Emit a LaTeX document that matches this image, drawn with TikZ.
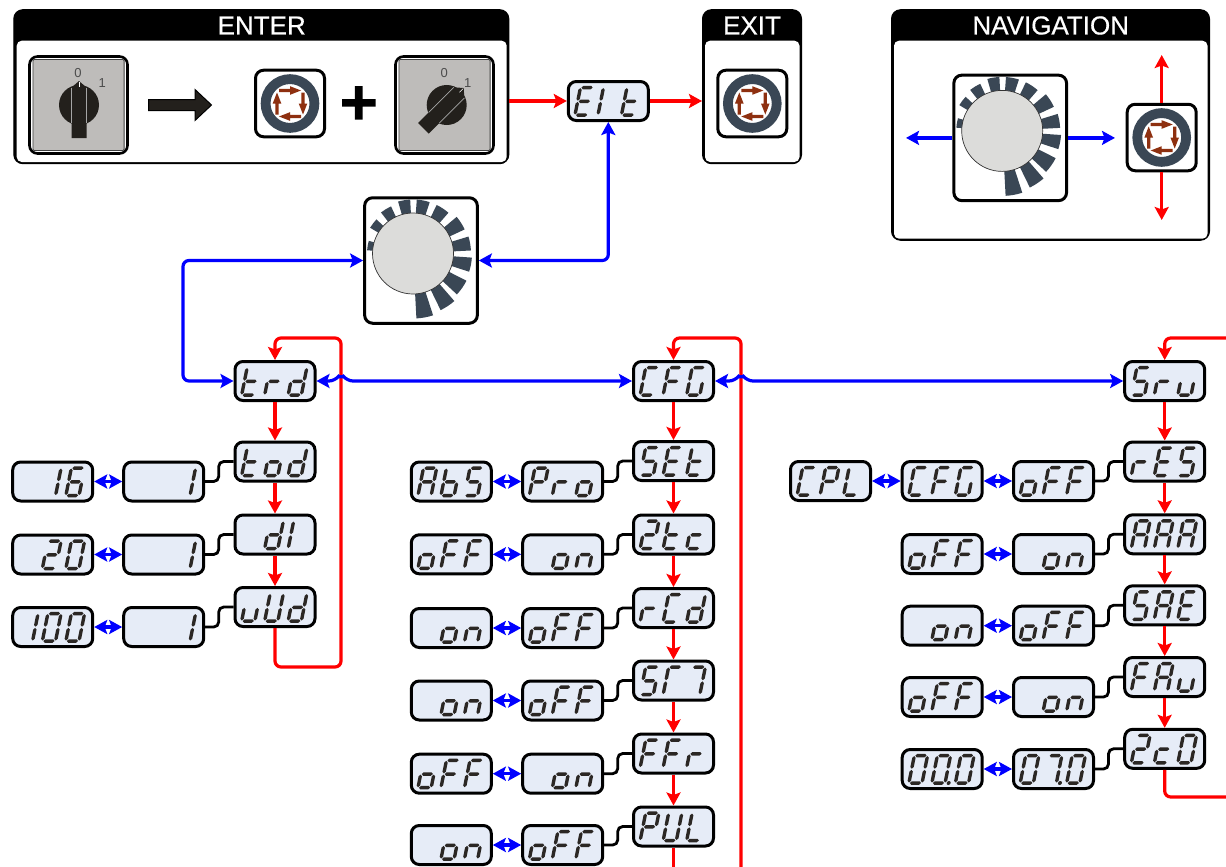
\documentclass[tikz,border=0pt]{standalone}
\usepackage{fontspec}
\setmainfont{Liberation Sans}
\newfontfamily\titlefont[RawFeature={embolden=0.5}]{Liberation Sans}
\usetikzlibrary{arrows.meta}
\definecolor{lcdfill}{HTML}{E6ECF7}
\definecolor{lcdink}{HTML}{2B2724}
\definecolor{ringc}{HTML}{3A4755}
\definecolor{brownc}{HTML}{8E3010}
\definecolor{plate}{HTML}{BEBCBA}
\definecolor{knobc}{HTML}{23201C}
\definecolor{discc}{HTML}{DCDCDA}
\tikzset{
 lcdbox/.style={draw=black,line width=3pt,fill=lcdfill,rounded corners=8pt,minimum width=80pt,minimum height=39pt,inner sep=0pt,text opacity=0,font=\fontsize{8}{8}\selectfont},
 iconbox/.style={draw=black,line width=3pt,fill=white,rounded corners=8pt,inner sep=0pt},
 panelbox/.style={draw=black,line width=1pt,fill=black,rounded corners=9pt,inner sep=0pt},
 paneltitle/.style={text=white,font=\titlefont\fontsize{26}{26}\selectfont,inner sep=0pt},
 lcdseg/.style={fill=lcdink},
 redln/.style={draw=red,line width=3.2pt,rounded corners=6pt},
 blueln/.style={draw=blue,line width=3.2pt,rounded corners=6pt},
 linkln/.style={draw=black,line width=2.8pt,rounded corners=5pt},
 >={Stealth[length=13pt,width=14pt,inset=2.5pt]},
 dial/.style={text=black!70,font=\fontsize{13}{13}\selectfont,inner sep=0pt}
}
% seven-segment pieces
\newcommand\segH[1]{\fill[lcdseg] (-5.6,#1) -- (-3.9,#1-1.75) -- (3.9,#1-1.75) -- (5.6,#1) -- (3.9,#1+1.75) -- (-3.9,#1+1.75) -- cycle;}
\newcommand\segV[3]{\fill[lcdseg] (#1,#2) -- (#1+1.7,#2+1.7) -- (#1+1.7,#3-1.7) -- (#1,#3) -- (#1-1.7,#3-1.7) -- (#1-1.7,#2+1.7) -- cycle;}
\def\SA{\segH{-13.7}}\def\SG{\segH{0}}\def\SD{\segH{13.7}}
\def\SF{\segV{-6.6}{-13.2}{-.6}}\def\SB{\segV{6.6}{-13.2}{-.6}}
\def\SE{\segV{-6.6}{.6}{13.2}}\def\SC{\segV{6.6}{.6}{13.2}}
\def\SP{\fill[lcdseg] (10.2,13.7) circle[radius=2];}
\def\GlyT{\SD\SE\SF\SG}\def\GlyR{\SE\SG}\def\GlyD{\SB\SC\SD\SE\SG}\def\GlyO{\SC\SD\SE\SG}
\def\GlyEE{\SA\SD\SE\SF\SG}\def\GlyLl{\SE\SF}\def\GlyRr{\SB\SC}\def\GlyC{\SA\SD\SE\SF}
\def\GlyCc{\SD\SE\SG}\def\GlyF{\SA\SE\SF\SG}\def\GlyG{\SA\SC\SD\SE\SF}\def\GlyS{\SA\SC\SD\SF\SG}
\def\GlyU{\SC\SD\SE}\def\GlyUU{\SB\SC\SD\SE\SF}\def\GlyTwo{\SA\SB\SD\SE\SG}\def\GlyP{\SA\SB\SE\SF\SG}
\def\GlyL{\SD\SE\SF}\def\GlyA{\SA\SB\SC\SE\SF\SG}\def\GlyB{\SC\SD\SE\SF\SG}\def\GlyN{\SC\SE\SG}
\def\GlySix{\SA\SC\SD\SE\SF\SG}\def\GlyZero{\SA\SB\SC\SD\SE\SF}\def\GlySeven{\SA\SB\SC}
\def\GlyMa{\SA\SE\SF}\def\GlyMb{\SA\SB\SC}\def\GlyNone{}
% name, x, y, three slots, string shown
\newcommand\lcd[7]{%
 \node[lcdbox] (#1) at (#2,#3) {#7};
 \begin{scope}[shift={(#2,#3)}]
  \begin{scope}[shift={(-24,.3)},xslant=.2]#4\end{scope}
  \begin{scope}[shift={(-1,.3)},xslant=.2]#5\end{scope}
  \begin{scope}[shift={(22.5,.3)},xslant=.2]#6\end{scope}
 \end{scope}}
% name, x, y
\newcommand\ringbtn[3]{%
 \node[iconbox,minimum width=69pt,minimum height=66.5pt] (#1) at (#2,#3) {};
 \begin{scope}[shift={(#2,#3)}]
  \draw[ringc,line width=9.8pt] (0,0) circle[radius=24.4];
  \foreach \rr in {0,90,180,270}{
   \fill[brownc,rotate=-\rr] (-11,-14.6) -- (0,-14.6) -- (0,-17.3) -- (11,-13) -- (0,-8.7) -- (0,-11.4) -- (-11,-11.4) -- cycle;}
 \end{scope}}
% name, x, y of box centre
\newcommand\knobicon[3]{%
 \node[iconbox,minimum width=112.7pt,minimum height=125.5pt] (#1) at (#2,#3) {};
 \begin{scope}[shift={(#2-8,#3-7)}]
  \foreach \aa/\bb/\rr in {-87/-72/65,-64/-49/63,-43/-27/60,-18/-4/59,3/17/58,25/40/57,49/64/54,72/86/54,93/106/54,115/128/52,137/149/50,164/176/46}{
   \fill[ringc] (\aa:30pt) -- (\aa:\rr pt) arc[start angle=\aa,end angle=\bb,radius=\rr pt] -- (\bb:30pt) -- cycle;}
  \draw[fill=discc,draw=black!80,line width=.7pt] (0,0) circle[radius=40.5];
 \end{scope}}
% name, box x, y, knob x, rotation
\newcommand\switchicon[5]{%
 \node[iconbox,line width=2.6pt,minimum width=98pt,minimum height=97pt] (#1) at (#2,#3) {};
 \draw[draw=black!75,line width=.8pt,fill=plate,rounded corners=1pt] (#2-45.6,#3-45.4) rectangle (#2+45.6,#3+45.4);
 \begin{scope}[shift={(#4,#3)},rotate=#5]
  \fill[knobc] (0,0) circle[radius=20];
  \fill[knobc] (-7.5,33) -- (7.5,33) -- (7.5,-17.5) -- (0,-24) -- (-7.5,-17.5) -- cycle;
  \draw[black!35,line width=.7pt] (-7.5,-17.5) -- (-7.5,18) (7.5,-17.5) -- (7.5,18);
  \draw[white,line width=.6pt] (0,-23) -- (0,-18);
 \end{scope}}
\begin{document}
\begin{tikzpicture}[x=1pt,y=-1pt]
\useasboundingbox (0,0) rectangle (1226,867);
% ---------- ENTER panel
\node[panelbox,minimum width=495pt,minimum height=154pt] (enter) at (261.3,86.7) {};
\fill[white,rounded corners=5pt] (16.7,40.7) rectangle (506.7,162);
\node[paneltitle] (entertitle) at (261.7,25.5) {ENTER};
\switchicon{swa}{78.5}{105}{79}{0}
\node[dial] (swaz) at (78,72.7) {0};
\node[dial] (swao) at (102.3,82.7) {1};
\fill[knobc,draw=black,line width=1pt] (148.5,99.5) -- (195,99.5) -- (195,89.5) -- (211.5,105) -- (195,120.5) -- (195,110.5) -- (148.5,110.5) -- cycle;
\ringbtn{btna}{290}{103.5}
\fill[black] (342,99) rectangle (375.5,106.5) (354.8,86) rectangle (362.5,119.5);
\switchicon{swb}{444.5}{105}{446.7}{-45}
\node[dial] (swbz) at (444.3,72.7) {0};
\node[dial] (swbo) at (467.7,82.7) {1};
% ---------- EXIT panel
\node[panelbox,minimum width=99pt,minimum height=154pt] (exit) at (752,86.7) {};
\fill[white,rounded corners=5pt] (705,40.7) rectangle (799.5,162);
\node[paneltitle] (exittitle) at (752,25.5) {EXIT};
\ringbtn{btnb}{752.3}{103.5}
% ---------- NAVIGATION panel
\node[panelbox,minimum width=318pt,minimum height=230.5pt] (nav) at (1050.5,125) {};
\fill[white,rounded corners=5pt] (894,40.7) rectangle (1207.5,238.7);
\node[paneltitle] (navtitle) at (1050.7,25.5) {NAVIGATION};
\knobicon{navknob}{1010.2}{137.9}
\ringbtn{btnc}{1161.7}{137.5}
\coordinate (navL) at (906,137.9);
\coordinate (navR) at (1115,137.9);
\coordinate (navU) at (1161.7,55);
\coordinate (navD) at (1161.7,220);
\draw[blueln,->] (navknob.west) -- (navL);
\draw[blueln,->] (navknob.east) -- (navR);
\draw[redln,->] (btnc.north) -- (navU);
\draw[redln,->] (btnc.south) -- (navD);
% ---------- centre
\lcd{eit}{608.3}{101}{\GlyEE}{\GlyLl}{\GlyT}{E1t}
\knobicon{knob}{421}{260.5}
% ---------- column 1
\lcd{trd}{275}{381}{\GlyT}{\GlyR}{\GlyD}{trd}
\lcd{tod}{275}{461.5}{\GlyT}{\GlyO}{\GlyD}{tod}
\lcd{dl}{275}{534.5}{\GlyNone}{\GlyD}{\GlyLl}{dl}
\lcd{vud}{275}{607}{\GlyU}{\GlyUU}{\GlyD}{vUd}
\lcd{aa}{163.7}{481.5}{\GlyNone}{\GlyNone}{\GlyRr}{1}
\lcd{ab}{163.7}{554.5}{\GlyNone}{\GlyNone}{\GlyRr}{1}
\lcd{ac}{163.7}{627}{\GlyNone}{\GlyNone}{\GlyRr}{1}
\lcd{ba}{52.7}{481.5}{\GlyNone}{\GlyRr}{\GlySix}{16}
\lcd{bb}{52.7}{554.5}{\GlyNone}{\GlyTwo}{\GlyZero}{20}
\lcd{bc}{52.7}{627}{\GlyRr}{\GlyZero}{\GlyZero}{100}
% ---------- column 2
\lcd{cfg}{673.5}{381}{\GlyC}{\GlyF}{\GlyG}{CFG}
\lcd{set}{673.5}{461}{\GlyS}{\GlyEE}{\GlyT}{SEt}
\lcd{ztc}{673.5}{534.5}{\GlyTwo}{\GlyT}{\GlyCc}{2tc}
\lcd{rcd}{673.5}{608}{\GlyR}{\GlyC}{\GlyD}{rCd}
\lcd{smm}{673.5}{680.5}{\GlyS}{\GlyMa}{\GlyMb}{SM}
\lcd{ffr}{673.5}{753.5}{\GlyF}{\GlyF}{\GlyR}{FFr}
\lcd{pul}{673.5}{826.5}{\GlyP}{\GlyUU}{\GlyL}{PUL}
\lcd{ca}{562.7}{481.5}{\GlyP}{\GlyR}{\GlyO}{Pro}
\lcd{cb}{562.7}{554.3}{\GlyNone}{\GlyO}{\GlyN}{on}
\lcd{cc}{562.7}{628}{\GlyO}{\GlyF}{\GlyF}{oFF}
\lcd{cd}{562.7}{700.5}{\GlyO}{\GlyF}{\GlyF}{oFF}
\lcd{ce}{562.7}{773.7}{\GlyNone}{\GlyO}{\GlyN}{on}
\lcd{cf}{562.7}{845}{\GlyO}{\GlyF}{\GlyF}{oFF}
\lcd{da}{451.3}{481.5}{\GlyA}{\GlyB}{\GlyS}{AbS}
\lcd{db}{451.3}{554.3}{\GlyO}{\GlyF}{\GlyF}{oFF}
\lcd{dc}{451.3}{628}{\GlyNone}{\GlyO}{\GlyN}{on}
\lcd{dd}{451.3}{700.5}{\GlyNone}{\GlyO}{\GlyN}{on}
\lcd{de}{451.3}{773.7}{\GlyO}{\GlyF}{\GlyF}{oFF}
\lcd{df}{451.3}{845}{\GlyNone}{\GlyO}{\GlyN}{on}
% ---------- column 3
\lcd{sru}{1164.7}{381}{\GlyS}{\GlyR}{\GlyU}{Sru}
\lcd{res}{1164.7}{461.5}{\GlyR}{\GlyEE}{\GlyS}{rES}
\lcd{aaa}{1164.7}{534.3}{\GlyA}{\GlyA}{\GlyA}{AAA}
\lcd{sae}{1164.7}{605.3}{\GlyS}{\GlyA}{\GlyEE}{SAE}
\lcd{fau}{1164.7}{677}{\GlyF}{\GlyA}{\GlyU}{FAu}
\lcd{zco}{1164.7}{748.8}{\GlyTwo}{\GlyCc}{\GlyZero}{2c0}
\lcd{ea}{1053.5}{481}{\GlyO}{\GlyF}{\GlyF}{oFF}
\lcd{eb}{1053.5}{554}{\GlyNone}{\GlyO}{\GlyN}{on}
\lcd{ec}{1053.5}{625.7}{\GlyO}{\GlyF}{\GlyF}{oFF}
\lcd{ed}{1053.5}{697}{\GlyNone}{\GlyO}{\GlyN}{on}
\lcd{ee}{1053.5}{769}{\GlyZero}{\GlySeven\SP}{\GlyZero}{07.0}
\lcd{fa}{942.2}{481}{\GlyC}{\GlyF}{\GlyG}{CFG}
\lcd{fb}{942.2}{554}{\GlyO}{\GlyF}{\GlyF}{oFF}
\lcd{fc}{942.2}{625.7}{\GlyNone}{\GlyO}{\GlyN}{on}
\lcd{fd}{942.2}{697}{\GlyO}{\GlyF}{\GlyF}{oFF}
\lcd{fe}{942.2}{769}{\GlyZero}{\GlyZero\SP}{\GlyZero}{00.0}
\lcd{ga}{830.5}{481}{\GlyC}{\GlyP}{\GlyL}{CPL}
% ---------- free ends
\coordinate (looptop1) at (341,338);
\coordinate (loopbot1) at (341,667);
\coordinate (crossa) at (341,381);
\coordinate (looptop2) at (741,338);
\coordinate (loopbot2) at (741,867);
\coordinate (crossb) at (741,381);
\coordinate (pulend) at (673.5,867);
\coordinate (edgetop) at (1226,338);
\coordinate (edgebot) at (1226,797);
\coordinate (knobleft) at (183,260.5);
% ---------- red connectors
\draw[redln,->] (enter.east |- eit.west) -- (eit.west);
\draw[redln,->] (eit.east) -- (eit.east -| exit.west);
\draw[redln,->] (vud.south) |- (loopbot1) -- (looptop1) -| (trd.north);
\draw[redln,->] (trd) -- (tod);
\draw[redln,->] (tod) -- (dl);
\draw[redln,->] (dl) -- (vud);
\draw[redln,->] (loopbot2) -- (looptop2) -| (cfg.north);
\draw[redln,->] (cfg) -- (set);
\draw[redln,->] (set) -- (ztc);
\draw[redln,->] (ztc) -- (rcd);
\draw[redln,->] (rcd) -- (smm);
\draw[redln,->] (smm) -- (ffr);
\draw[redln,->] (ffr) -- (pul);
\draw[redln] (pul.south) -- (pulend);
\draw[redln,->] (edgetop) -| (sru.north);
\draw[redln,->] (sru) -- (res);
\draw[redln,->] (res) -- (aaa);
\draw[redln,->] (aaa) -- (sae);
\draw[redln,->] (sae) -- (fau);
\draw[redln,->] (fau) -- (zco);
\draw[redln] (zco.south) |- (edgebot);
% ---------- blue connectors
\draw[blueln,<->] (knob.west) -- (knobleft) |- (trd.west);
\draw[blueln,<->] (knob.east) -| (eit.south);
\draw[blueln,<->] (trd.east) -- ([xshift=-6pt]crossa) .. controls +(3,-4) and +(-3,-4) .. ([xshift=6pt]crossa) -- (cfg.west);
\draw[blueln,<->] (cfg.east) -- ([xshift=-6pt]crossb) .. controls +(3,-4) and +(-3,-4) .. ([xshift=6pt]crossb) -- (sru.west);
\foreach \pa/\pb in {ba/aa,bb/ab,bc/ac,da/ca,db/cb,dc/cc,dd/cd,de/ce,df/cf,ga/fa,fa/ea,fb/eb,fc/ec,fd/ed,fe/ee}
  \draw[blueln,<->] (\pa) -- (\pb);
% ---------- black links
\foreach \pa/\pb in {aa/tod,ab/dl,ac/vud,ca/set,cb/ztc,cc/rcd,cd/smm,ce/ffr,cf/pul,ea/res,eb/aaa,ec/sae,ed/fau,ee/zco}
  \draw[linkln] (\pa.east) -- ++(13.5,0) |- (\pb.west);
\end{tikzpicture}
\end{document}
